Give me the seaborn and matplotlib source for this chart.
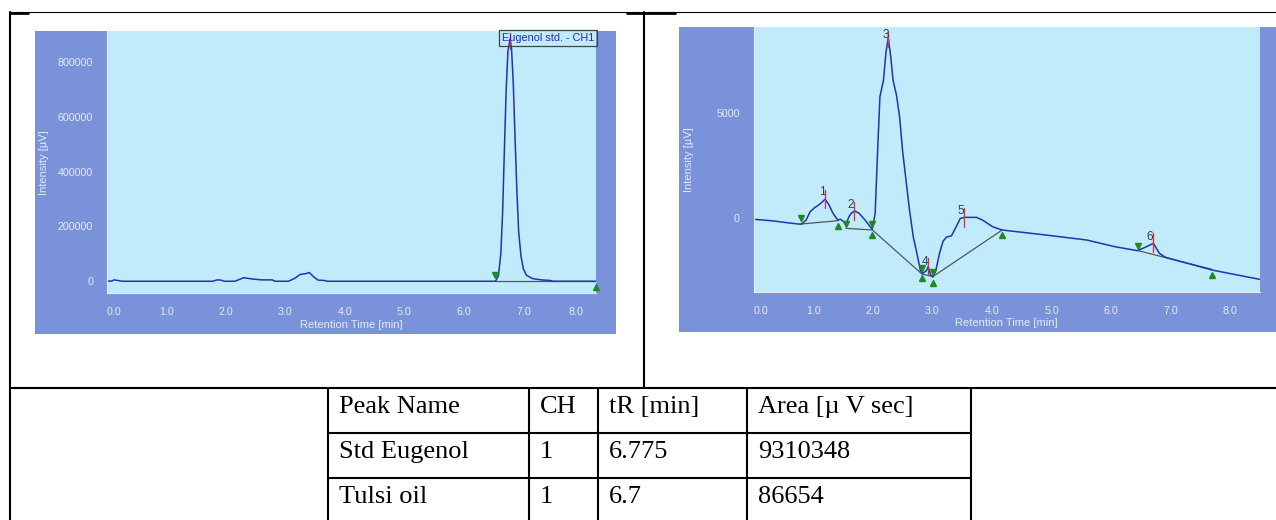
import matplotlib
matplotlib.use("Agg")
import matplotlib.pyplot as plt
import seaborn as sns
from matplotlib.patches import Rectangle
from matplotlib.ticker import MultipleLocator, FormatStrFormatter

# --- Eugenol standard (CH1) ---
std_time = [0.00, 0.08, 0.12, 0.18, 0.25, 1.78, 1.85, 1.92, 1.97, 2.15, 2.30, 2.45,
            2.60, 2.78, 2.82, 3.05, 3.15, 3.25, 3.35, 3.40, 3.48, 3.55, 3.65, 3.70,
            6.53, 6.58, 6.62, 6.65, 6.68, 6.71, 6.74, 6.775, 6.80, 6.83, 6.86, 6.89,
            6.92, 6.96, 7.00, 7.05, 7.15, 7.30, 7.45, 7.50, 8.22]
std_int = [0, 1000, 5000, 3000, 0, 0, 5000, 4000, 0, 0, 13000, 8000,
           5000, 5000, 0, 0, 10000, 25000, 28000, 32000, 15000, 4000, 3000, 0,
           0, 20000, 100000, 250000, 480000, 700000, 840000, 885000, 850000, 720000, 520000, 330000,
           180000, 90000, 45000, 22000, 10000, 5000, 3000, 0, 0]
std_base_t = [6.53, 8.22]
std_base_i = [0, 0]
std_start = (6.53, 23000)
std_end = (8.22, -22000)
std_apex_t = 6.775
std_apex_i = (850000, 905000)

# --- Tulsi oil ---
oil_time = [0.00, 0.30, 0.55, 0.75, 0.80, 0.88, 0.95, 1.02, 1.09, 1.15, 1.20, 1.26,
            1.33, 1.41, 1.46, 1.50, 1.55, 1.60, 1.65, 1.70, 1.77, 1.87, 1.99, 2.04,
            2.08, 2.12, 2.18, 2.22, 2.26, 2.30, 2.34, 2.40, 2.45, 2.50, 2.57, 2.62,
            2.68, 2.74, 2.80, 2.84, 2.90, 2.93, 2.97, 3.01, 3.06, 3.12, 3.18, 3.24,
            3.32, 3.40, 3.47, 3.54, 3.74, 3.84, 4.01, 4.17, 4.90, 5.59, 6.06, 6.44,
            6.57, 6.71, 6.81, 6.91, 7.28, 7.69, 8.49]
oil_int = [-60, -130, -220, -285, -290, -100, 300, 480, 617, 750, 900, 650,
           237, -95, -60, -150, -300, 63, 260, 332, 222, -95, -538, 222,
           3100, 5760, 6550, 7830, 8550, 7700, 6550, 5800, 4800, 3200, 1490, 300,
           -900, -1670, -2500, -2620, -2500, -2310, -2700, -2800, -2470, -1680, -1100, -900,
           -850, -412, -15, 30, 30, -95, -412, -570, -807, -1045, -1361, -1551,
           -1393, -1203, -1677, -1868, -2152, -2469, -2912]
oil_base_t = [(0.796, 1.423), (1.552, 1.994), (1.994, 2.825), (2.825, 3.008),
              (3.008, 4.172), (6.453, 7.69)]
oil_base_i = [(-285, -127), (-491, -570), (-570, -2659), (-2659, -2785),
              (-2785, -570), (-1551, -2437)]
oil_start_t = [0.796, 1.552, 1.994, 2.825, 3.008, 6.453]
oil_start_i = [-16, -285, -301, -2390, -2548, -1329]
oil_end_t = [1.423, 1.994, 2.825, 3.008, 4.172, 7.69]
oil_end_i = [-380, -807, -2865, -3070, -807, -2706]
peak_no = ["1", "2", "3", "4", "5", "6"]
peak_t = [1.205, 1.688, 2.26, 2.927, 3.539, 6.704]
peak_top = [1329, 775, 8847, -1915, 459, -728]
peak_bot = [459, -95, 8135, -2706, -412, -1598]
label_t = [1.157, 1.633, 2.212, 2.879, 3.485, 6.65]
label_i = [1250, 617, 8689, -2073, 348, -886]

# --- results table ---
table_header = ["Peak Name", "CH", "tR [min]", "Area [µ V sec]"]
table_rows = [["Std Eugenol", "1", "6.775", "9310348"],
              ["Tulsi oil", "1", "6.7", "86654"]]

sns.set_style("white")
plt.rcParams["font.family"] = ["Liberation Sans", "DejaVu Sans"]

W, H = 1276, 520
OUTER = "#7A92DA"
PLOT_BG = "#C1EBFA"
LIGHT = "#E4EAF8"
CURVE = "#2233B0"
GREEN = "#1E8A22"
BASE = "#4A5A5E"


def px_box(x0, y0, x1, y1):
    return [x0 / W, 1 - y1 / H, (x1 - x0) / W, (y1 - y0) / H]


fig = plt.figure(figsize=(W / 100, H / 100), dpi=100)
bg = fig.add_axes([0, 0, 1, 1], zorder=-1)
bg.set_xlim(0, W)
bg.set_ylim(H, 0)
bg.axis("off")

# blue instrument panels behind the plots
bg.add_patch(Rectangle((35, 31), 581, 303, color=OUTER, lw=0))
bg.add_patch(Rectangle((679, 26.7), 597, 305.3, color=OUTER, lw=0))

# document frame
bg.plot([10, 1276], [12, 12], color="black", lw=0.8)
bg.plot([10, 28], [12.5, 12.5], color="black", lw=2)
bg.plot([627, 675], [12.8, 12.8], color="black", lw=2)
bg.plot([10, 10], [12, 520], color="black", lw=1.5)
bg.plot([644, 644], [12, 388], color="black", lw=1.5)
bg.plot([10, 1276], [388, 388], color="black", lw=1.5)

col_x = [328, 529, 598, 747, 971]
row_y = [388, 433, 478, 520]
for x in col_x:
    bg.plot([x, x], [388, 520], color="black", lw=1.5)
for y in row_y[1:3]:
    bg.plot([328, 971], [y, y], color="black", lw=1.5)
baselines = [413, 458, 503]
for r, row in enumerate([table_header] + table_rows):
    for c, txt in enumerate(row):
        bg.text(col_x[c] + 11, baselines[r], txt, fontsize=19, va="baseline",
                ha="left", family="Liberation Serif", color="black")


def style(ax, xlim, ylim, ymaj, ymin):
    ax.set_facecolor(PLOT_BG)
    ax.set_xlim(*xlim)
    ax.set_ylim(*ylim)
    ax.xaxis.set_major_locator(MultipleLocator(1))
    ax.xaxis.set_minor_locator(MultipleLocator(0.2))
    ax.yaxis.set_major_locator(MultipleLocator(ymaj))
    ax.yaxis.set_minor_locator(MultipleLocator(ymin))
    ax.xaxis.set_major_formatter(FormatStrFormatter("%.1f"))
    ax.yaxis.set_major_formatter(FormatStrFormatter("%d"))
    for s in ["top", "right"]:
        ax.spines[s].set_visible(False)
    for s in ["left", "bottom"]:
        ax.spines[s].set_color(LIGHT)
        ax.spines[s].set_linewidth(0.8)
    ax.tick_params(which="major", length=5, width=0.8, color=LIGHT,
                   labelcolor=LIGHT, labelsize=7.7, pad=5)
    ax.tick_params(which="minor", length=2.5, width=0.6, color=LIGHT)
    ax.set_xlabel("Retention Time [min]", color=LIGHT, fontsize=8)
    ax.set_ylabel("Intensity [µV]", color=LIGHT, fontsize=8)
    ax.xaxis.set_label_coords(0.5, -0.1)
    ax.yaxis.set_label_coords(-0.118, 0.5)
    ax.grid(False)


# left: eugenol standard
ax1 = fig.add_axes(px_box(107, 31, 596, 293.3))
style(ax1, (0, 8.22), (-44000, 914000), 200000, 50000)
ax1.plot(std_base_t, std_base_i, color=BASE, lw=0.9)
sns.lineplot(x=std_time, y=std_int, ax=ax1, color=CURVE, lw=1.1,
             estimator=None, sort=False)
ax1.plot([std_apex_t, std_apex_t], std_apex_i, color="#C03060", lw=1)
ax1.plot(*std_start, marker="v", color=GREEN, ms=5, clip_on=False)
ax1.plot(*std_end, marker="^", color=GREEN, ms=5, clip_on=False)
ax1.text(0.997, 0.992, "Eugenol std. - CH1", transform=ax1.transAxes,
         ha="right", va="top", fontsize=7.8, color="#2828C8",
         bbox=dict(boxstyle="square,pad=0.25", fc="none", ec="#3A4650", lw=0.9))

# right: tulsi oil
ax2 = fig.add_axes(px_box(753.6, 26.7, 1259.5, 291.7))
style(ax2, (0, 8.49), (-3500, 9084), 5000, 1000)
for bt, bi in zip(oil_base_t, oil_base_i):
    ax2.plot(bt, bi, color=BASE, lw=0.9)
sns.lineplot(x=oil_time, y=oil_int, ax=ax2, color=CURVE, lw=1.1,
             estimator=None, sort=False)
for t, top, bot in zip(peak_t, peak_top, peak_bot):
    ax2.plot([t, t], [bot, top], color="#E03040", lw=1)
ax2.plot(oil_start_t, oil_start_i, ls="none", marker="v", color=GREEN, ms=5)
ax2.plot(oil_end_t, oil_end_i, ls="none", marker="^", color=GREEN, ms=5)
for n, t, i in zip(peak_no, label_t, label_i):
    ax2.text(t, i, n, ha="center", va="center", fontsize=8.5, color="#2E3E4E")

# the instrument software keeps the end labels inside the axis
fig.canvas.draw()
for ax, right_end in [(ax1, True), (ax2, False)]:
    for tick in ax.xaxis.get_major_ticks():
        loc = round(tick.get_loc(), 3)
        if loc == 0:
            tick.label1.set_ha("left")
        elif loc == 8 and right_end:
            tick.label1.set_ha("right")

fig.savefig("out.png", dpi=100)
